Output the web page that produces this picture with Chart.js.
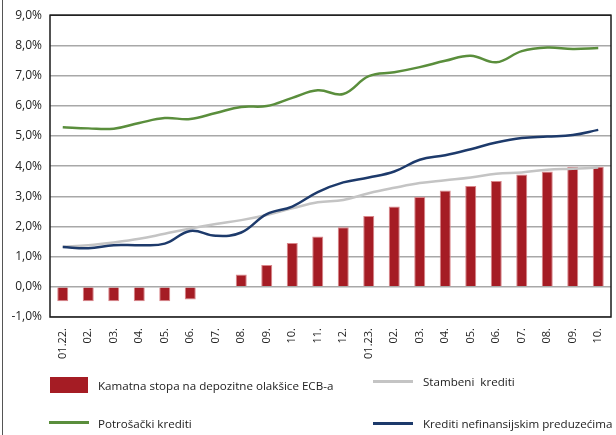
<!DOCTYPE html>
<html>
<head>
<meta charset="utf-8">
<script src="https://cdn.jsdelivr.net/npm/chart.js@4"></script>
<style>
	body { margin: 0; background: #fff; }
	#wrap { position: relative; width: 616px; height: 435px; overflow: hidden; }
	#frame { position: absolute; left: 2px; top: 0; width: 1px; height: 435px; background: #555; }
	.lg { position: absolute; font-family: "Open Sans", sans-serif; font-size: 11.6px; color: #222; white-space: pre; line-height: 16px; }
	.sw { position: absolute; }
</style>
</head>
<body>
<div id="wrap">
	<canvas id="c" width="616" height="435"></canvas>
	<div id="frame"></div>
	<div class="sw" style="left:50px;top:377px;width:38px;height:16px;background:#A51C24"></div>
	<div class="lg" style="left:98px;top:378px">Kamatna stopa na depozitne olakšice ECB-a</div>
	<div class="sw" style="left:49px;top:421px;width:40px;height:3px;background:#5A8E3C"></div>
	<div class="lg" style="left:98px;top:416px">Potrošački krediti</div>
	<div class="sw" style="left:373px;top:380px;width:40px;height:3px;background:#C4C4C4"></div>
	<div class="lg" style="left:423px;top:374px">Stambeni  krediti</div>
	<div class="sw" style="left:373px;top:422px;width:40px;height:3px;background:#1D3A6B"></div>
	<div class="lg" style="left:423px;top:416px">Krediti nefinansijskim preduzećima</div>
</div>
<script>
const months = ['01.22.', '02.', '03.', '04.', '05.', '06.', '07.', '08.', '09.', '10.', '11.', '12.',
	'01.23.', '02.', '03.', '04.', '05.', '06.', '07.', '08.', '09.', '10.'];
const ecbRate = [-0.48, -0.48, -0.48, -0.48, -0.48, -0.42, 0, 0.41, 0.72, 1.45, 1.67, 1.97,
	2.35, 2.66, 2.98, 3.19, 3.34, 3.51, 3.72, 3.82, 3.98, 3.98];
const stambeni = [1.33, 1.38, 1.47, 1.59, 1.76, 1.93, 2.08, 2.21, 2.38, 2.60, 2.80, 2.88,
	3.10, 3.28, 3.44, 3.53, 3.62, 3.75, 3.79, 3.88, 3.91, 3.95];
const potrosacki = [5.29, 5.25, 5.24, 5.43, 5.59, 5.56, 5.76, 5.96, 5.99, 6.26, 6.51, 6.39,
	6.98, 7.11, 7.28, 7.49, 7.66, 7.44, 7.81, 7.93, 7.88, 7.91];
const preduzeca = [1.32, 1.28, 1.38, 1.38, 1.43, 1.85, 1.69, 1.80, 2.41, 2.66, 3.14, 3.46,
	3.62, 3.82, 4.21, 4.36, 4.56, 4.78, 4.93, 4.98, 5.03, 5.20];

const boxPlugin = {
	id: 'box',
	afterDatasetsDraw(chart) {
		const a = chart.chartArea, ctx = chart.ctx;
		ctx.save();
		ctx.strokeStyle = '#1a1a1a';
		ctx.lineWidth = 1.5;
		ctx.strokeRect(a.left, a.top, a.right - a.left, a.bottom - a.top);
		ctx.restore();
	}
};

const lineSet = (label, data, color, order) => ({
	type: 'line', label, data, borderColor: color, backgroundColor: color,
	borderWidth: 2.5, pointRadius: 0, tension: 0.4, order
});

new Chart(document.getElementById('c'), {
	type: 'bar',
	data: {
		labels: months,
		datasets: [
			{ label: 'Kamatna stopa na depozitne olakšice ECB-a', data: ecbRate, backgroundColor: '#A51C24',
				borderColor: '#D9868A', borderWidth: 1, barPercentage: 0.9, categoryPercentage: 0.48, order: 4 },
			lineSet('Stambeni  krediti', stambeni, '#C4C4C4', 3),
			lineSet('Potrošački krediti', potrosacki, '#5A8E3C', 2),
			lineSet('Krediti nefinansijskim preduzećima', preduzeca, '#1D3A6B', 1)
		]
	},
	options: {
		responsive: false,
		animation: false,
		layout: { padding: { top: 15, right: 5, left: 0, bottom: 0 } },
		plugins: { legend: { display: false }, tooltip: { enabled: false } },
		scales: {
			x: {
				grid: { display: false },
				border: { display: false },
				ticks: { minRotation: 90, maxRotation: 90, autoSkip: false, padding: 3,
					color: '#222', font: { family: 'Open Sans', size: 11 } },
				afterFit(scale) { scale.height = 118; }
			},
			y: {
				min: -1, max: 9,
				grid: { color: '#A8A8A8', lineWidth: 1.5, drawTicks: false },
				border: { display: false },
				ticks: { stepSize: 1, padding: 8, color: '#222', font: { family: 'Open Sans', size: 12 },
					callback: v => v.toFixed(1).replace('.', ',') + '%' },
				afterFit(scale) { scale.width = 50; }
			}
		}
	},
	plugins: [boxPlugin]
});
</script>
</body>
</html>
